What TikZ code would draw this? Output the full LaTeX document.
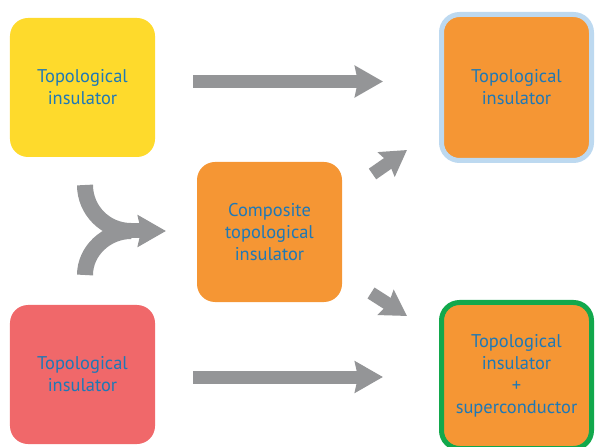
\documentclass[tikz,border=0pt]{standalone}
\usepackage{fontspec}
\setmainfont{PT Sans}
\usetikzlibrary{arrows.meta}
\definecolor{tiyellow}{RGB}{254,218,44}
\definecolor{tired}{RGB}{240,104,106}
\definecolor{tiorange}{RGB}{245,150,52}
\definecolor{tiblue}{RGB}{30,120,182}
\definecolor{edgeblue}{RGB}{189,217,240}
\definecolor{edgegreen}{RGB}{18,168,76}
\definecolor{arrowgray}{RGB}{148,149,151}
\tikzset{
	tibox/.style={rounded corners=18bp, minimum width=145bp, minimum height=139bp,
		inner sep=0pt, align=center, text=tiblue, font=\fontsize{18.5}{22}\selectfont},
	bigarrow/.style={draw=arrowgray, line width=13bp,
		-{Stealth[length=28bp,width=31bp,inset=3bp]}},
	smallarrow/.style={bigarrow, -{Stealth[length=25bp,width=29bp,inset=3bp]}},
}
\begin{document}
\begin{tikzpicture}[x=1bp,y=-1bp]
				\useasboundingbox (0,0) rectangle (595,447);
				\node[tibox, fill=tiyellow] (tiA) at (82.5,87.5) {Topological\\insulator};
				\node[tibox, fill=tired] (tiB) at (82.5,374.5) {Topological\\insulator};
				\node[tibox, fill=tiorange, minimum height=140bp] (comp) at (269.5,232) {Composite\\topological\\insulator};
				\node[tibox, fill=tiorange, draw=edgeblue, line width=5bp, minimum width=150bp, minimum height=146bp] (tiC) at (516.5,87.5) {Topological\\insulator};
				\node[tibox, fill=tiorange, draw=edgegreen, line width=5bp, minimum width=150bp, minimum height=146bp] (tisc) at (516.5,375.5) {Topological\\insulator\\+\\superconductor};
				
				\coordinate (topi) at (193,81.5);
				\coordinate (topii) at (383,81.5);
				\coordinate (boti) at (193,377);
				\coordinate (botii) at (383,377);
				\coordinate (upi) at (372.5,174);
				\coordinate (upii) at (407,150);
				\coordinate (downi) at (371,293);
				\coordinate (downii) at (407,316);
				\coordinate (mergei) at (85,185);
				\coordinate (mergeii) at (85,275);
				\coordinate (merge) at (131,231);
				\coordinate (mergetip) at (166,231);
				
				\draw[bigarrow] (topi) -- (topii);
				\draw[bigarrow] (boti) -- (botii);
				\draw[smallarrow] (upi) -- (upii);
				\draw[smallarrow] (downi) -- (downii);
				\draw[arrowgray, line width=16bp] (mergei) .. controls (85,210.4) and (105.6,231) .. (merge);
				\draw[arrowgray, line width=16bp] (mergeii) .. controls (85,250.7) and (106.7,231) .. (merge);
				\draw[bigarrow, line width=15bp] ([xshift=-3bp]merge) -- (mergetip);
\end{tikzpicture}
\end{document}
